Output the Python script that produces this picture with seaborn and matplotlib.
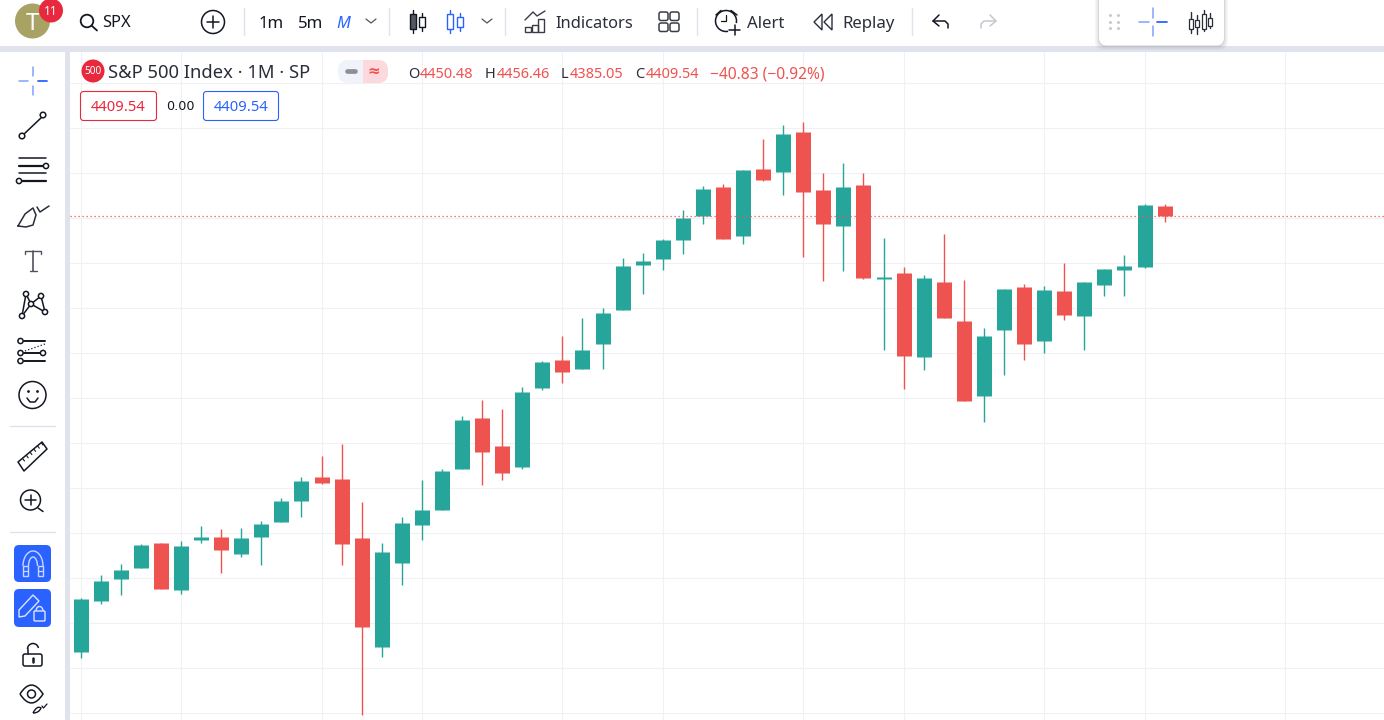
# =============================================================================
# SPX MENSUAL — VELAS JAPONESAS CON LA INTERFAZ DEL GRÁFICO
# =============================================================================

import pandas as pd
import numpy as np
import matplotlib.pyplot as plt
import matplotlib.patches as mpatches
from matplotlib.path import Path
import seaborn as sns

sns.set_theme(style="whitegrid", rc={"grid.color": "#F0F1F4", "grid.linewidth": 0.8})
plt.rcParams["font.family"] = ["Noto Sans", "DejaVu Sans"]

VERDE, ROJO, AZUL, TINTA = "#26A69A", "#EF5350", "#2962FF", "#131722"
BORDE = "#E0E3EB"

aperturas = [2665, 2869, 2957, 3001, 3100, 2913, 3113, 3124, 3057, 3125, 3185, 3269, 3364, 3356, 3120,
             2685, 3021, 3173, 3233, 3397, 3600, 3488, 3405, 3721, 3832, 3797, 3897, 4033, 4213, 4237,
             4313, 4409, 4524, 4329, 4596, 4585, 4744, 4512, 4369, 4532, 4156, 4180, 3845, 4144, 3988,
             3689, 3953, 4124, 3909, 4108, 4009, 4133, 4193, 4205, 4450.48]
maximos = [2880, 2972, 3016, 3096, 3100, 3108, 3168, 3156, 3160, 3188, 3280, 3364, 3448, 3496, 3264,
           3100, 3204, 3352, 3396, 3608, 3672, 3636, 3724, 3828, 3928, 4000, 4040, 4240, 4260, 4316,
           4432, 4528, 4536, 4592, 4716, 4772, 4784, 4580, 4620, 4580, 4320, 4204, 4172, 4336, 4152,
           3960, 4116, 4136, 4128, 4220, 4144, 4196, 4252, 4456, 4456.46]
minimos = [2641, 2857, 2893, 3001, 2917, 2897, 3101, 2981, 3045, 3013, 3185, 3205, 3337, 3013, 2413,
           2645, 2933, 3113, 3233, 3397, 3333, 3353, 3397, 3713, 3741, 3797, 3796, 4033, 4097, 4193,
           4257, 4377, 4317, 4297, 4549, 4493, 4245, 4149, 4189, 4157, 3873, 3717, 3793, 4001, 3669,
           3585, 3773, 3833, 3861, 3993, 3873, 4089, 4089, 4201, 4385.05]
cierres = [2876, 2948, 2992, 3092, 2917, 3088, 3124, 3073, 3120, 3176, 3268, 3348, 3341, 3097, 2765,
           3064, 3180, 3232, 3388, 3592, 3465, 3381, 3704, 3824, 3785, 3872, 4020, 4208, 4228, 4312,
           4400, 4516, 4317, 4592, 4553, 4736, 4505, 4377, 4524, 4161, 4164, 3849, 4160, 4001, 3669,
           3928, 4116, 3897, 4112, 4013, 4144, 4196, 4208, 4452, 4409.54]

ultimo_cierre = 4409.54
niveles_grid = [4943.5, 4763.5, 4583.5, 4403.5, 4223.5, 4043.5, 3863.5, 3683.5, 3503.5, 3323.5,
                3143.5, 2963.5, 2783.5, 2603.5, 2423.5]
velas_grid = [0, 5, 12, 17, 24, 29, 36, 41, 48, 53, 60]


def _guardar(nombre: str) -> None:
    plt.savefig(nombre, dpi=100)
    plt.close()


def dibujar_velas(ax) -> None:
    """Dibuja mechas y cuerpos con lineplot, una línea por vela."""
    df = pd.DataFrame({"vela": range(len(cierres)), "o": aperturas, "h": maximos, "l": minimos, "c": cierres})
    df["sentido"] = np.where(df["c"] >= df["o"], "sube", "baja")
    colores = {"sube": VERDE, "baja": ROJO}
    mechas = df.melt(id_vars=["vela", "sentido"], value_vars=["l", "h"], value_name="precio")
    cuerpos = df.melt(id_vars=["vela", "sentido"], value_vars=["o", "c"], value_name="precio")
    sns.lineplot(data=mechas, x="vela", y="precio", hue="sentido", units="vela", estimator=None, palette=colores,
                 linewidth=1.0, solid_capstyle="butt", legend=False, sort=False, ax=ax)
    sns.lineplot(data=cuerpos, x="vela", y="precio", hue="sentido", units="vela", estimator=None, palette=colores,
                 linewidth=10.8, solid_capstyle="butt", legend=False, sort=False, ax=ax)
    ax.axhline(ultimo_cierre, color=ROJO, linestyle=(0, (1, 2.2)), lw=0.9, zorder=5)
    ax.set_xlim(-0.53, 64.93); ax.set_ylim(2393.5, 5065.5)
    ax.set_xticks(velas_grid); ax.set_yticks(niveles_grid)
    ax.set_xticklabels([]); ax.set_yticklabels([]); ax.set_xlabel(""); ax.set_ylabel("")
    ax.tick_params(length=0); ax.set_axisbelow(True)
    sns.despine(ax=ax, left=True, bottom=True)


def linea(ui, xs, ys, color=TINTA, lw=1.1, **kws):
    ui.plot(xs, ys, color=color, lw=lw, solid_capstyle=kws.pop("cap", "round"), **kws)


def circulo(ui, x, y, r, ec=TINTA, fc="none", lw=1.1, zorder=3):
    ui.add_patch(mpatches.Circle((x, y), r, ec=ec, fc=fc, lw=lw, zorder=zorder))


def caja(ui, x0, y0, x1, y1, r=2, ec=TINTA, fc="none", lw=1.1, zorder=3):
    ui.add_patch(mpatches.FancyBboxPatch((x0 + r, y0 + r), x1 - x0 - 2 * r, y1 - y0 - 2 * r,
                                         boxstyle=f"round,pad={r},rounding_size={r}", ec=ec, fc=fc, lw=lw, zorder=zorder))


def texto(ui, x, y, s, px=16, color=TINTA, ha="left", **kws):
    ui.text(x, y, s, fontsize=px * 0.72, color=color, ha=ha, va="center", zorder=6, **kws)


def mira(ui, cx, cy):
    # Cruz azul de cursor
    linea(ui, [cx - 14, cx - 5], [cy, cy], "#7FA0FF", 1.1); linea(ui, [cx + 5, cx + 14], [cy, cy], AZUL, 1.3)
    linea(ui, [cx, cx], [cy - 14, cy - 5], "#7FA0FF", 1.1); linea(ui, [cx, cx], [cy + 5, cy + 14], "#7FA0FF", 1.1)


def icono_vela(ui, x, y0, y1, w0, w1, color=TINTA, fc="none"):
    linea(ui, [x, x], [w0, y0], color, 1.0); linea(ui, [x, x], [y1, w1], color, 1.0)
    ui.add_patch(mpatches.Rectangle((x - 3, y0), 6, y1 - y0, ec=color, fc=fc, lw=1.0, zorder=3))


def barra_superior(ui) -> None:
    # Avatar, búsqueda y temporalidades
    circulo(ui, 32.5, 21, 17.5, ec="none", fc="#A8A365")
    texto(ui, 32, 24, "T", 24, "white", ha="center", fontweight="light")
    circulo(ui, 51, 10.5, 12, ec="none", fc="#E8283C", zorder=4)
    texto(ui, 51, 11.5, "11", 12, "white", ha="center")
    circulo(ui, 87, 21, 6.3, lw=1.3); linea(ui, [91.5, 97], [25.5, 30.5], lw=1.3)
    texto(ui, 102.5, 23, "SPX", 16.5, fontweight="bold")
    circulo(ui, 213, 22, 11.5); linea(ui, [207, 219], [22, 22]); linea(ui, [213, 213], [16, 28])
    for x in (243.5, 389, 505, 697, 912):
        linea(ui, [x, x], [8, 35], BORDE, 1.0)
    texto(ui, 259, 23.5, "1m", 16.8); texto(ui, 297.5, 23.5, "5m", 16.8)
    texto(ui, 336, 23.5, "M", 16.5, AZUL, fontstyle="italic")
    for x in (371, 487):
        linea(ui, [x - 5, x, x + 5], [19, 23, 19], "#50535E", 0.9)
    # Iconos de velas
    icono_vela(ui, 412.5, 14, 29, 10, 33, fc="#55585F"); icono_vela(ui, 422, 17, 27, 13, 31)
    icono_vela(ui, 449.5, 14, 29, 10, 33, AZUL); icono_vela(ui, 460, 17, 27, 13, 31, AZUL)
    # Indicadores
    linea(ui, [525, 533, 537, 545], [20, 12, 16, 11], "#3A3D46", 1.0)
    for x0, y0 in ((525, 27), (531.5, 25), (538, 19)):
        ui.add_patch(mpatches.Rectangle((x0, y0), 6, 32 - y0, ec="#3A3D46", fc="none", lw=1.0, zorder=3))
    texto(ui, 555, 23.5, "Indicators", 16.5, "#2A2E39")
    for x0 in (659, 670):
        for y0 in (12, 23):
            caja(ui, x0, y0, x0 + 9, y0 + 8.5, r=2, ec="#3A3D46")
    # Alerta, repetición, deshacer
    circulo(ui, 726, 21, 10.5); linea(ui, [726, 726, 721], [15, 21, 21], lw=0.9)
    linea(ui, [716, 721], [15, 10.5], lw=1.1); linea(ui, [731, 737], [10.5, 15], lw=1.1)
    ui.add_patch(mpatches.Circle((735, 30), 7, ec="none", fc="white", zorder=3))
    linea(ui, [729, 739.5], [30, 30], zorder=4); linea(ui, [734.5, 734.5], [25, 35], zorder=4)
    texto(ui, 747, 23.5, "Alert", 16.8, "#2A2E39")
    for x in (814, 824):
        ui.add_patch(mpatches.Polygon([[x + 8, 14], [x, 22], [x + 8, 30]], closed=True, ec="#2A2E39", fc="none", lw=1.0, zorder=3))
    texto(ui, 842, 23.5, "Replay", 16.8, "#2A2E39")
    for x0, signo, color in ((933, 1, TINTA), (996, -1, "#C4C7CE")):
        xs = [x0 + signo * 15, x0 + signo * 15, x0 + signo * 12, x0]
        linea(ui, xs, [28, 24, 21, 21], color, 1.1)
        linea(ui, [x0 + signo * 6, x0, x0 + signo * 6], [15, 21, 26], color, 1.1)
    # Panel flotante
    for pad, alfa in ((4, 0.05), (2.5, 0.08), (1, 0.12)):
        caja(ui, 1099 - pad, -8, 1224 + pad, 46 + pad, r=8, ec="none", fc="#50535E", zorder=4, lw=0)
        ui.patches[-1].set_alpha(alfa)
    caja(ui, 1099, -8, 1224, 45.5, r=8, ec="none", fc="white", zorder=4.5, lw=0)
    for x in (1110, 1118):
        ui.scatter([x, x, x], [15, 21.5, 28], s=5, color="#C9CBD1", zorder=5, linewidths=0)
    linea(ui, [1139, 1149], [22, 22], "#7FA0FF", 1.1, zorder=5); linea(ui, [1157, 1167], [22, 22], AZUL, 1.3, zorder=5)
    linea(ui, [1153, 1153], [8, 18], "#7FA0FF", 1.1, zorder=5); linea(ui, [1153, 1153], [26, 36], "#7FA0FF", 1.1, zorder=5)
    for x, y0, y1, w0, w1 in ((1191, 19, 29, 12, 33), (1197, 20, 27, 15, 34), (1204, 14, 29, 10, 31), (1210, 18, 26, 13, 28)):
        linea(ui, [x, x], [w0, w1], "#2A2E39", 1.0, zorder=5)
        ui.add_patch(mpatches.Rectangle((x - 1.7, y0), 3.4, y1 - y0, ec="#2A2E39", fc="white", lw=0.9, zorder=6))


def barra_izquierda(ui) -> None:
    mira(ui, 33, 81)
    # Línea de tendencia
    linea(ui, [23, 42], [135, 117]); circulo(ui, 22, 136, 2.8, fc="white"); circulo(ui, 43, 115, 2.8, fc="white")
    # Fibonacci
    linea(ui, [19, 46], [158, 158]); linea(ui, [19, 43], [166, 166], lw=1.6); linea(ui, [19, 46], [173, 173])
    linea(ui, [22, 46], [181, 181], lw=1.6); circulo(ui, 46, 166, 2.6, fc="white"); circulo(ui, 19, 181, 2.6, fc="white")
    # Pincel
    linea(ui, [18, 25, 33, 36, 33, 26, 18], [226, 214, 208, 215, 225, 227, 226], "#2A2E39")
    linea(ui, [37, 40, 49], [207, 212, 206], "#2A2E39")
    # Texto
    linea(ui, [25, 25, 41, 41], [254, 251, 251, 254], "#50535E", 1.0)
    linea(ui, [33, 33], [251, 271], "#50535E", 1.2); linea(ui, [29.5, 36.5], [271, 271], "#50535E", 1.0)
    # Patrón
    puntos = [(26, 294), (41, 296), (31, 304), (45, 312), (22, 316)]
    for a, b in ((0, 2), (1, 2), (2, 3), (2, 4), (0, 4), (1, 3)):
        linea(ui, [puntos[a][0], puntos[b][0]], [puntos[a][1], puntos[b][1]])
    for x, y in puntos:
        circulo(ui, x, y, 2.6, fc="white", zorder=4)
    # Pronóstico
    linea(ui, [24, 45], [341, 341], lw=1.4); linea(ui, [24, 42], [353, 353], lw=1.4); linea(ui, [24, 45], [361, 361], lw=1.4)
    linea(ui, [25, 45], [351, 344], lw=0.9, linestyle=":")
    circulo(ui, 20.5, 341, 2.6, fc="white"); circulo(ui, 20.5, 353, 2.6, fc="white")
    circulo(ui, 20.5, 361, 2.6, fc="white"); circulo(ui, 43, 353, 2.6, fc="white")
    # Emoji
    circulo(ui, 32.5, 395, 13.5); ui.scatter([28, 37], [391, 391], s=4, color=TINTA, linewidths=0, zorder=4)
    linea(ui, [27, 30, 35, 38], [398, 402, 402, 398])
    # Separadores
    for y in (426, 532):
        linea(ui, [10, 55], [y, y], BORDE, 1.0)
    # Regla
    ui.add_patch(mpatches.Polygon([[18, 462], [42, 442], [47, 449], [24, 471]], closed=True, ec=TINTA, fc="none", lw=1.1, joinstyle="round", zorder=3))
    for k in range(6):
        x, y = 23 + 3.7 * k, 459 - 3.2 * k
        linea(ui, [x, x + 1.5], [y, y + 2], lw=0.8)
    # Lupa
    circulo(ui, 30.5, 500, 10); linea(ui, [25, 36], [500, 500]); linea(ui, [30.5, 30.5], [495, 505]); linea(ui, [38, 43], [508, 511.5])
    # Imán y lápiz en azul
    caja(ui, 14, 545, 51, 582, r=5, ec="none", fc=AZUL)
    caja(ui, 14, 589, 51, 627, r=5, ec="none", fc=AZUL)
    ui.add_patch(mpatches.Arc((33, 566), 20, 30, theta1=180, theta2=360, ec="#C9D6FF", lw=1.0, zorder=4))
    ui.add_patch(mpatches.Arc((33, 566), 9, 18, theta1=180, theta2=360, ec="#C9D6FF", lw=1.0, zorder=4))
    for x0 in (23, 37.5):
        ui.add_patch(mpatches.Rectangle((x0, 566), 5, 9.5, ec="#C9D6FF", fc="none", lw=1.0, zorder=4))
        linea(ui, [x0, x0 + 5], [571, 571], "#C9D6FF", 0.9, zorder=4)
    ui.add_patch(mpatches.Polygon([[19, 610], [33, 595], [39, 601], [25, 616], [19, 617]], closed=True, ec="#DCE4FF", fc="none", lw=1.0, zorder=4))
    caja(ui, 34, 611, 45, 621, r=1, ec="#DCE4FF", zorder=4, lw=1.0)
    ui.add_patch(mpatches.Arc((39.5, 611), 7, 9, theta1=180, theta2=360, ec="#DCE4FF", lw=1.0, zorder=4))
    # Candado abierto
    caja(ui, 23, 654, 42, 666, r=2)
    ui.add_patch(mpatches.Arc((33, 649), 11, 11, theta1=180, theta2=350, ec=TINTA, lw=1.1, zorder=3))
    linea(ui, [27.5, 27.5], [649, 654]); linea(ui, [32.5, 32.5], [658, 661.5], lw=1.8)
    # Ojo
    ojo = Path([(20, 694), (31.5, 676), (43, 694), (31.5, 712), (20, 694)], [Path.MOVETO, Path.CURVE3, Path.CURVE3, Path.CURVE3, Path.CURVE3])
    ui.add_patch(mpatches.PathPatch(ojo, ec=TINTA, fc="none", lw=1.1, zorder=3))
    circulo(ui, 31.5, 694, 4)
    hoja = Path([(33, 713), (37, 705), (41, 708), (39, 713), (33, 713)], [Path.MOVETO, Path.CURVE3, Path.CURVE3, Path.CURVE3, Path.CURVE3])
    ui.add_patch(mpatches.PathPatch(hoja, ec=TINTA, fc="none", lw=1.0, zorder=3))
    linea(ui, [42, 43.5, 47], [706, 708, 704], lw=0.9)


def leyenda(ui) -> None:
    circulo(ui, 93, 71, 11.5, ec="none", fc="#E8283C")
    texto(ui, 93, 71.5, "500", 10, "white", ha="center", fontweight="bold")
    texto(ui, 108, 73.5, "S&P 500 Index · 1M · SP", 18.4, "#2A2E39")
    # Píldora de estado
    caja(ui, 338, 60, 388, 83, r=10, ec="none", fc="#F0F3FA")
    ui.add_patch(mpatches.Rectangle((363, 60), 15, 23, ec="none", fc="#FBD9DC", zorder=3.2))
    caja(ui, 368, 60, 388, 83, r=10, ec="none", fc="#FBD9DC", zorder=3.2)
    linea(ui, [347, 355], [71, 71], "#8C8F96", 3.4, zorder=4)
    texto(ui, 374, 71, "≈", 15, ROJO, ha="center", fontweight="bold", family="DejaVu Sans")
    # Valores OHLC
    for x, letra in ((408, "O"), (484.5, "H"), (561, "L"), (635, "C")):
        texto(ui, x, 74.5, letra, 14.6, "#2A2E39")
    for x, valor in ((420, "4450.48"), (497, "4456.46"), (570, "4385.05"), (646, "4409.54")):
        texto(ui, x, 74.5, valor, 14.6, ROJO)
    texto(ui, 710, 74.5, "−40.83 (−0.92%)", 15.6, ROJO)
    # Cajas de precio
    caja(ui, 80.5, 91.5, 156.5, 120.5, r=3, ec="#E8283C", fc="white", lw=0.8)
    caja(ui, 203.5, 91.5, 278.5, 120.5, r=3, ec=AZUL, fc="white", lw=0.8)
    texto(ui, 118.5, 107.5, "4409.54", 14.8, "#E8283C", ha="center")
    texto(ui, 241, 107.5, "4409.54", 14.8, AZUL, ha="center")
    texto(ui, 180, 106.5, "0.00", 12.8, TINTA, ha="center", family="DejaVu Sans")


def generar_grafico() -> None:
    """Genera el gráfico completo y lo guarda como PNG."""
    fig = plt.figure(figsize=(13.84, 7.2), facecolor="white")

    # 1. Velas
    ax = fig.add_axes([70 / 1384, 0, 1314 / 1384, 668 / 720])
    dibujar_velas(ax)

    # 2. Interfaz en coordenadas de píxel
    ui = fig.add_axes([0, 0, 1, 1], facecolor="none")
    ui.set_xlim(0, 1384); ui.set_ylim(720, 0); ui.axis("off")
    ui.add_patch(mpatches.Rectangle((0, 46), 1384, 5.5, ec="none", fc=BORDE, zorder=1))
    ui.add_patch(mpatches.Rectangle((65, 46), 5, 674, ec="none", fc=BORDE, zorder=1))
    barra_superior(ui)
    barra_izquierda(ui)
    leyenda(ui)

    _guardar("out.png")


if __name__ == "__main__":
    generar_grafico()
